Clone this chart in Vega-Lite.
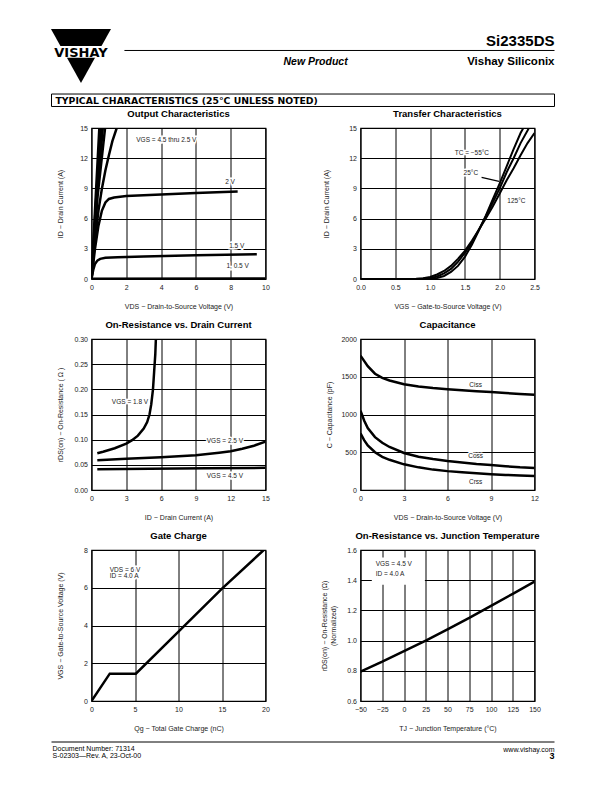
{
"$schema":"https://vega.github.io/schema/vega-lite/v6.json",
"background":"white",
"padding":{"left":49.5,"top":28,"right":5,"bottom":5},
"config":{
 "font":"Liberation Sans",
 "view":{"stroke":"black","strokeWidth":1.2},
 "axis":{"grid":true,"tickCount":30,"gridColor":"black","gridOpacity":1,"gridWidth":1,"domain":false,"ticks":false,"labelFont":"Liberation Sans","labelFontSize":7,"labelColor":"#222","labelPadding":4,"labelOverlap":false,"labelFlush":false,"titleFont":"Liberation Sans","titleFontSize":7,"titleFontWeight":"normal","titleColor":"#222"},
 "axisX":{"titleY":27,"titleBaseline":"middle"},
 "axisY":{"titleX":-31,"titleY":75.5,"titleAngle":-90,"titleAlign":"center","titleBaseline":"middle"},
 "title":{"font":"Liberation Sans Narrow, Arial Narrow, Liberation Sans","fontSize":9.5,"fontWeight":"bold","color":"black","frame":"group","offset":6,"anchor":"middle","baseline":"alphabetic"},
 "text":{"font":"Liberation Sans","fontSize":6.5,"color":"#222"}
},
"datasets":{
 "out":[
  {"s":"4.5","x":0,"y":0},{"s":"4.5","x":0.2,"y":6.8},{"s":"4.5","x":0.45,"y":15},
  {"s":"4","x":0,"y":0},{"s":"4","x":0.25,"y":7.5},{"s":"4","x":0.55,"y":15},
  {"s":"3.5","x":0,"y":0},{"s":"3.5","x":0.3,"y":8},{"s":"3.5","x":0.65,"y":15},
  {"s":"3","x":0,"y":0},{"s":"3","x":0.35,"y":8.2},{"s":"3","x":0.78,"y":15},
  {"s":"2.5","x":0,"y":0},{"s":"2.5","x":0.2,"y":3.8},{"s":"2.5","x":0.4,"y":6.8},{"s":"2.5","x":0.6,"y":9.0},{"s":"2.5","x":0.8,"y":10.8},{"s":"2.5","x":1.0,"y":12.3},{"s":"2.5","x":1.2,"y":13.7},{"s":"2.5","x":1.45,"y":15},
  {"s":"2","x":0,"y":0},{"s":"2","x":0.2,"y":3.0},{"s":"2","x":0.4,"y":5.3},{"s":"2","x":0.6,"y":6.8},{"s":"2","x":0.8,"y":7.6},{"s":"2","x":1.0,"y":7.95},{"s":"2","x":1.3,"y":8.1},{"s":"2","x":2,"y":8.25},{"s":"2","x":4,"y":8.4},{"s":"2","x":6,"y":8.55},{"s":"2","x":8.4,"y":8.7},
  {"s":"1.5","x":0,"y":0},{"s":"1.5","x":0.1,"y":0.9},{"s":"1.5","x":0.2,"y":1.5},{"s":"1.5","x":0.35,"y":1.85},{"s":"1.5","x":0.5,"y":2.0},{"s":"1.5","x":0.8,"y":2.1},{"s":"1.5","x":1.5,"y":2.17},{"s":"1.5","x":3,"y":2.23},{"s":"1.5","x":6,"y":2.35},{"s":"1.5","x":9.5,"y":2.47},
  {"s":"1","x":0,"y":0.03},{"s":"1","x":10,"y":0.05}
 ],
 "outLab":[{"t":"VGS = 4.5 thru 2.5 V","x":4.3,"y":13.85},{"t":"2 V","x":7.96,"y":9.63},{"t":"1.5 V","x":8.35,"y":3.3},{"t":"1, 0.5 V","x":8.4,"y":1.25}],
 "tr":[
  {"s":"-55","x":0,"y":0},{"s":"-55","x":0.9,"y":0},{"s":"-55","x":1.0,"y":0.02},{"s":"-55","x":1.1,"y":0.1},{"s":"-55","x":1.2,"y":0.3},{"s":"-55","x":1.3,"y":0.7},{"s":"-55","x":1.4,"y":1.3},{"s":"-55","x":1.5,"y":2.2},{"s":"-55","x":1.6,"y":3.4},{"s":"-55","x":1.7,"y":4.8},{"s":"-55","x":1.8,"y":6.3},{"s":"-55","x":1.9,"y":7.9},{"s":"-55","x":2.0,"y":9.5},{"s":"-55","x":2.1,"y":11.2},{"s":"-55","x":2.2,"y":12.9},{"s":"-55","x":2.3,"y":14.5},{"s":"-55","x":2.34,"y":15},
  {"s":"25","x":0,"y":0},{"s":"25","x":0.85,"y":0},{"s":"25","x":1.0,"y":0.08},{"s":"25","x":1.1,"y":0.25},{"s":"25","x":1.2,"y":0.55},{"s":"25","x":1.3,"y":1.0},{"s":"25","x":1.4,"y":1.7},{"s":"25","x":1.5,"y":2.6},{"s":"25","x":1.6,"y":3.6},{"s":"25","x":1.7,"y":4.9},{"s":"25","x":1.8,"y":6.2},{"s":"25","x":1.9,"y":7.6},{"s":"25","x":2.0,"y":9.0},{"s":"25","x":2.1,"y":10.6},{"s":"25","x":2.2,"y":12.0},{"s":"25","x":2.3,"y":13.5},{"s":"25","x":2.42,"y":15},
  {"s":"125","x":0,"y":0},{"s":"125","x":0.8,"y":0.02},{"s":"125","x":0.9,"y":0.08},{"s":"125","x":1.0,"y":0.2},{"s":"125","x":1.1,"y":0.45},{"s":"125","x":1.2,"y":0.8},{"s":"125","x":1.3,"y":1.3},{"s":"125","x":1.4,"y":2.0},{"s":"125","x":1.5,"y":2.8},{"s":"125","x":1.6,"y":3.8},{"s":"125","x":1.7,"y":4.9},{"s":"125","x":1.8,"y":6.0},{"s":"125","x":1.9,"y":7.2},{"s":"125","x":2.0,"y":8.5},{"s":"125","x":2.1,"y":9.8},{"s":"125","x":2.2,"y":11.0},{"s":"125","x":2.3,"y":12.3},{"s":"125","x":2.4,"y":13.5},{"s":"125","x":2.5,"y":14.5}
 ],
 "trLab":[{"t":"TC = −55°C","x":1.6,"y":12.5},{"t":"25°C","x":1.585,"y":10.55},{"t":"125°C","x":2.24,"y":7.75}],
 "trArrow":[{"x":1.74,"y":10.1,"x2":1.99,"y2":9.7}],
 "ron":[
  {"s":"1.8","x":0.5,"y":0.073},{"s":"1.8","x":1,"y":0.076},{"s":"1.8","x":2,"y":0.083},{"s":"1.8","x":3,"y":0.092},{"s":"1.8","x":3.5,"y":0.099},{"s":"1.8","x":4,"y":0.108},{"s":"1.8","x":4.5,"y":0.122},{"s":"1.8","x":4.8,"y":0.135},{"s":"1.8","x":5.0,"y":0.15},{"s":"1.8","x":5.15,"y":0.17},{"s":"1.8","x":5.3,"y":0.2},{"s":"1.8","x":5.4,"y":0.235},{"s":"1.8","x":5.5,"y":0.27},{"s":"1.8","x":5.55,"y":0.3},
  {"s":"2.5","x":0.5,"y":0.059},{"s":"2.5","x":3,"y":0.062},{"s":"2.5","x":6,"y":0.065},{"s":"2.5","x":9,"y":0.069},{"s":"2.5","x":11,"y":0.074},{"s":"2.5","x":12,"y":0.077},{"s":"2.5","x":13,"y":0.082},{"s":"2.5","x":14,"y":0.088},{"s":"2.5","x":15,"y":0.096},
  {"s":"4.5","x":0.5,"y":0.041},{"s":"4.5","x":5,"y":0.042},{"s":"4.5","x":10,"y":0.043},{"s":"4.5","x":15,"y":0.044}
 ],
 "ronLab":[{"t":"VGS = 1.8 V","x":3.32,"y":0.175},{"t":"VGS = 2.5 V","x":11.5,"y":0.098},{"t":"VGS = 4.5 V","x":11.5,"y":0.028}],
 "cap":[
  {"s":"Ciss","x":0,"y":1780},{"s":"Ciss","x":0.5,"y":1640},{"s":"Ciss","x":1,"y":1540},{"s":"Ciss","x":1.5,"y":1485},{"s":"Ciss","x":2,"y":1450},{"s":"Ciss","x":3,"y":1400},{"s":"Ciss","x":4,"y":1370},{"s":"Ciss","x":5,"y":1350},{"s":"Ciss","x":6,"y":1335},{"s":"Ciss","x":7,"y":1320},{"s":"Ciss","x":8,"y":1308},{"s":"Ciss","x":9,"y":1297},{"s":"Ciss","x":10,"y":1285},{"s":"Ciss","x":11,"y":1273},{"s":"Ciss","x":12,"y":1260},
  {"s":"Coss","x":0,"y":1050},{"s":"Coss","x":0.25,"y":920},{"s":"Coss","x":0.5,"y":820},{"s":"Coss","x":1,"y":700},{"s":"Coss","x":1.5,"y":625},{"s":"Coss","x":2,"y":570},{"s":"Coss","x":3,"y":490},{"s":"Coss","x":4,"y":440},{"s":"Coss","x":5,"y":410},{"s":"Coss","x":6,"y":385},{"s":"Coss","x":7,"y":365},{"s":"Coss","x":8,"y":345},{"s":"Coss","x":9,"y":330},{"s":"Coss","x":10,"y":315},{"s":"Coss","x":11,"y":300},{"s":"Coss","x":12,"y":290},
  {"s":"Crss","x":0,"y":750},{"s":"Crss","x":0.25,"y":660},{"s":"Crss","x":0.5,"y":590},{"s":"Crss","x":1,"y":500},{"s":"Crss","x":1.5,"y":440},{"s":"Crss","x":2,"y":400},{"s":"Crss","x":3,"y":340},{"s":"Crss","x":4,"y":300},{"s":"Crss","x":5,"y":270},{"s":"Crss","x":6,"y":250},{"s":"Crss","x":7,"y":235},{"s":"Crss","x":8,"y":222},{"s":"Crss","x":9,"y":210},{"s":"Crss","x":10,"y":200},{"s":"Crss","x":11,"y":192},{"s":"Crss","x":12,"y":185}
 ],
 "capLab":[{"t":"Ciss","x":7.94,"y":1390},{"t":"Coss","x":7.94,"y":455},{"t":"Crss","x":7.94,"y":101}],
 "qg":[{"x":0,"y":0},{"x":2.1,"y":1.45},{"x":5.1,"y":1.45},{"x":10,"y":3.67},{"x":15,"y":5.95},{"x":19.8,"y":8}],
 "qgLab":[{"t":"VDS = 6 V","x":2.1,"y":6.93},{"t":"ID = 4.0  A","x":2.1,"y":6.63}],
 "tj":[{"x":-50,"y":0.795},{"x":-25,"y":0.86},{"x":0,"y":0.93},{"x":25,"y":1.0},{"x":50,"y":1.075},{"x":75,"y":1.15},{"x":100,"y":1.23},{"x":125,"y":1.31},{"x":150,"y":1.39}],
 "tjLab":[{"t":"VGS = 4.5 V","x":-32.6,"y":1.505},{"t":"ID = 4.0  A","x":-32.6,"y":1.44}],
 "tjBox":[{"x":-37,"x2":24,"y":1.37,"y2":1.55}]
},
"columns":2,
"bounds":"flush",
"spacing":{"row":60,"column":95},
"concat":[
 {
  "width":174,"height":39,"view":{"stroke":null},
  "data":{"values":[{}]},
  "layer":[
   {"mark":{"type":"point","shape":"M-1,-0.9L1,-0.9L0,0.9Z","size":3600,"filled":true,"fill":"black","opacity":1,"strokeWidth":0},
    "encoding":{"x":{"datum":0.0586,"type":"quantitative","scale":{"domain":[0,1],"range":[-40,463],"nice":false,"zero":false},"axis":null},"y":{"datum":0.329,"type":"quantitative","scale":{"domain":[0,1],"range":[0,82],"nice":false,"zero":false},"axis":null}}},
   {"mark":{"type":"point","shape":"M-1,-0.19L1,-0.19L1,0.19L-1,0.19Z","size":3844,"filled":true,"fill":"white","opacity":1,"strokeWidth":0},
    "encoding":{"x":{"datum":0.0586,"type":"quantitative"},"y":{"datum":0.28,"type":"quantitative"}}},
   {"mark":{"type":"text","font":"DejaVu Sans","fontWeight":"bold","fontSize":13,"color":"black","align":"center","baseline":"alphabetic","text":"VISHAY"},
    "encoding":{"x":{"datum":0.0586,"type":"quantitative"},"y":{"datum":0.341,"type":"quantitative"}}},
   {"mark":{"type":"rule","color":"black","strokeWidth":1},
    "encoding":{"x":{"datum":0.145,"type":"quantitative"},"x2":{"datum":1},"y":{"datum":0.262,"type":"quantitative"}}},
   {"mark":{"type":"text","font":"Liberation Sans Narrow, Arial Narrow, Liberation Sans","fontWeight":"bold","fontStyle":"italic","fontSize":10.5,"color":"black","align":"center","baseline":"alphabetic","text":"New Product"},
    "encoding":{"x":{"datum":0.525,"type":"quantitative"},"y":{"datum":0.439,"type":"quantitative"}}},
   {"mark":{"type":"rect","filled":false,"stroke":"black","strokeWidth":1},
    "encoding":{"x":{"datum":0,"type":"quantitative"},"x2":{"datum":1},"y":{"datum":0.793,"type":"quantitative"},"y2":{"datum":0.945}}},
   {"mark":{"type":"text","font":"DejaVu Sans","fontWeight":"bold","fontSize":9.3,"color":"black","align":"left","baseline":"alphabetic","text":"TYPICAL CHARACTERISTICS (25°C UNLESS NOTED)"},
    "encoding":{"x":{"datum":0.008,"type":"quantitative"},"y":{"datum":0.909,"type":"quantitative"}}}
  ]
 },
 {
  "width":174,"height":39,"view":{"stroke":null},
  "data":{"values":[{}]},
  "layer":[
   {"mark":{"type":"text","font":"Liberation Sans","fontWeight":"bold","fontSize":15,"color":"black","align":"right","baseline":"alphabetic","text":"Si2335DS"},
    "encoding":{"x":{"datum":1,"type":"quantitative","scale":{"domain":[0,1],"range":[-309,194],"nice":false,"zero":false},"axis":null},"y":{"datum":0.213,"type":"quantitative","scale":{"domain":[0,1],"range":[0,82],"nice":false,"zero":false},"axis":null}}},
   {"mark":{"type":"text","font":"Liberation Sans Narrow, Arial Narrow, Liberation Sans","fontWeight":"bold","fontSize":11.5,"color":"black","align":"right","baseline":"alphabetic","text":"Vishay Siliconix"},
    "encoding":{"x":{"datum":1,"type":"quantitative"},"y":{"datum":0.445,"type":"quantitative"}}}
  ]
 },
 {
  "title":"Output Characteristics","width":174,"height":151,
  "layer":[
   {"data":{"name":"outLab"},"mark":{"type":"text","fill":"white","stroke":"white","strokeWidth":3},
    "encoding":{"x":{"field":"x","type":"quantitative","scale":{"domain":[0,10],"nice":false,"zero":false},"axis":{"values":[0,2,4,6,8,10],"tickCount":30,"format":"d","title":"VDS  −  Drain-to-Source Voltage (V)"}},"y":{"field":"y","type":"quantitative","scale":{"domain":[0,15],"nice":false,"zero":false},"axis":{"values":[0,3,6,9,12,15],"tickCount":30,"format":"d","title":"ID  −  Drain Current (A)"}},"text":{"field":"t"}}},
   {"data":{"name":"out"},"mark":{"type":"line","clip":true,"strokeWidth":2.5,"color":"black"},
    "encoding":{"x":{"field":"x","type":"quantitative"},"y":{"field":"y","type":"quantitative"},"detail":{"field":"s"}}},
   {"data":{"name":"outLab"},"mark":{"type":"text"},
    "encoding":{"x":{"field":"x","type":"quantitative"},"y":{"field":"y","type":"quantitative"},"text":{"field":"t"}}}
  ]
 },
 {
  "title":"Transfer Characteristics","width":174,"height":151,
  "layer":[
   {"data":{"name":"trLab"},"mark":{"type":"text","fill":"white","stroke":"white","strokeWidth":3},
    "encoding":{"x":{"field":"x","type":"quantitative","scale":{"domain":[0,2.5],"nice":false,"zero":false},"axis":{"values":[0,0.5,1,1.5,2,2.5],"tickCount":30,"format":".1f","title":"VGS  −  Gate-to-Source Voltage (V)"}},"y":{"field":"y","type":"quantitative","scale":{"domain":[0,15],"nice":false,"zero":false},"axis":{"values":[0,3,6,9,12,15],"tickCount":30,"format":"d","title":"ID  −  Drain Current (A)","titleX":-34}},"text":{"field":"t"}}},
   {"data":{"name":"tr"},"mark":{"type":"line","clip":true,"strokeWidth":2,"color":"black"},
    "encoding":{"x":{"field":"x","type":"quantitative"},"y":{"field":"y","type":"quantitative"},"detail":{"field":"s"}}},
   {"data":{"name":"trArrow"},"mark":{"type":"rule","color":"black","strokeWidth":1.2},
    "encoding":{"x":{"field":"x","type":"quantitative"},"y":{"field":"y","type":"quantitative"},"x2":{"field":"x2"},"y2":{"field":"y2"}}},
   {"data":{"name":"trLab"},"mark":{"type":"text"},
    "encoding":{"x":{"field":"x","type":"quantitative"},"y":{"field":"y","type":"quantitative"},"text":{"field":"t"}}}
  ]
 },
 {
  "title":"On-Resistance vs. Drain Current","width":174,"height":151,
  "layer":[
   {"data":{"name":"ronLab"},"mark":{"type":"text","fill":"white","stroke":"white","strokeWidth":3},
    "encoding":{"x":{"field":"x","type":"quantitative","scale":{"domain":[0,15],"nice":false,"zero":false},"axis":{"values":[0,3,6,9,12,15],"tickCount":30,"format":"d","title":"ID  −  Drain Current (A)"}},"y":{"field":"y","type":"quantitative","scale":{"domain":[0,0.3],"nice":false,"zero":false},"axis":{"values":[0,0.05,0.1,0.15,0.2,0.25,0.3],"tickCount":30,"format":".2f","title":"rDS(on)  −  On-Resistance ( Ω )"}},"text":{"field":"t"}}},
   {"data":{"name":"ron"},"mark":{"type":"line","clip":true,"strokeWidth":2.5,"color":"black"},
    "encoding":{"x":{"field":"x","type":"quantitative"},"y":{"field":"y","type":"quantitative"},"detail":{"field":"s"}}},
   {"data":{"name":"ronLab"},"mark":{"type":"text"},
    "encoding":{"x":{"field":"x","type":"quantitative"},"y":{"field":"y","type":"quantitative"},"text":{"field":"t"}}}
  ]
 },
 {
  "title":"Capacitance","width":174,"height":151,
  "layer":[
   {"data":{"name":"capLab"},"mark":{"type":"text","fill":"white","stroke":"white","strokeWidth":3},
    "encoding":{"x":{"field":"x","type":"quantitative","scale":{"domain":[0,12],"nice":false,"zero":false},"axis":{"values":[0,3,6,9,12],"tickCount":30,"format":"d","title":"VDS  −  Drain-to-Source Voltage (V)"}},"y":{"field":"y","type":"quantitative","scale":{"domain":[0,2000],"nice":false,"zero":false},"axis":{"values":[0,500,1000,1500,2000],"tickCount":30,"format":"d","title":"C  −  Capacitance (pF)"}},"text":{"field":"t"}}},
   {"data":{"name":"cap"},"mark":{"type":"line","clip":true,"strokeWidth":2.5,"color":"black"},
    "encoding":{"x":{"field":"x","type":"quantitative"},"y":{"field":"y","type":"quantitative"},"detail":{"field":"s"}}},
   {"data":{"name":"capLab"},"mark":{"type":"text"},
    "encoding":{"x":{"field":"x","type":"quantitative"},"y":{"field":"y","type":"quantitative"},"text":{"field":"t"}}}
  ]
 },
 {
  "title":"Gate Charge","width":174,"height":151,
  "layer":[
   {"data":{"name":"qgLab"},"mark":{"type":"text","fill":"white","stroke":"white","strokeWidth":3,"align":"left"},
    "encoding":{"x":{"field":"x","type":"quantitative","scale":{"domain":[0,20],"nice":false,"zero":false},"axis":{"values":[0,5,10,15,20],"tickCount":30,"format":"d","title":"Qg  −  Total Gate Charge (nC)"}},"y":{"field":"y","type":"quantitative","scale":{"domain":[0,8],"nice":false,"zero":false},"axis":{"values":[0,2,4,6,8],"tickCount":30,"format":"d","title":"VGS  −  Gate-to-Source Voltage (V)"}},"text":{"field":"t"}}},
   {"data":{"name":"qg"},"mark":{"type":"line","clip":true,"strokeWidth":2.5,"color":"black"},
    "encoding":{"x":{"field":"x","type":"quantitative"},"y":{"field":"y","type":"quantitative"}}},
   {"data":{"name":"qgLab"},"mark":{"type":"text","align":"left"},
    "encoding":{"x":{"field":"x","type":"quantitative"},"y":{"field":"y","type":"quantitative"},"text":{"field":"t"}}}
  ]
 },
 {
  "title":"On-Resistance vs. Junction Temperature","width":174,"height":151,
  "layer":[
   {"data":{"name":"tjBox"},"mark":{"type":"rect","color":"white","opacity":1},
    "encoding":{"x":{"field":"x","type":"quantitative","scale":{"domain":[-50,150],"nice":false,"zero":false},"axis":{"values":[-50,-25,0,25,50,75,100,125,150],"tickCount":30,"format":"d","title":"TJ − Junction Temperature (°C)"}},"x2":{"field":"x2"},"y":{"field":"y","type":"quantitative","scale":{"domain":[0.6,1.6],"nice":false,"zero":false},"axis":{"values":[0.6,0.8,1.0,1.2,1.4,1.6],"tickCount":30,"format":".1f","title":["rDS(on)  −  On-Resistance (Ω)","(Normalized)"],"titleX":-36}},"y2":{"field":"y2"}}},
   {"data":{"name":"tj"},"mark":{"type":"line","clip":true,"strokeWidth":2.5,"color":"black"},
    "encoding":{"x":{"field":"x","type":"quantitative"},"y":{"field":"y","type":"quantitative"}}},
   {"data":{"name":"tjLab"},"mark":{"type":"text","align":"left"},
    "encoding":{"x":{"field":"x","type":"quantitative"},"y":{"field":"y","type":"quantitative"},"text":{"field":"t"}}}
  ]
 },
 {
  "width":174,"height":4,"view":{"stroke":null},
  "data":{"values":[{}]},
  "layer":[
   {"mark":{"type":"rule","color":"black","strokeWidth":1},
    "encoding":{"x":{"datum":0,"type":"quantitative","scale":{"domain":[0,1],"range":[-40,463],"nice":false,"zero":false},"axis":null},"x2":{"datum":1},"y":{"datum":0,"type":"quantitative","scale":{"domain":[0,1],"range":[-19,2],"nice":false,"zero":false},"axis":null}}},
   {"mark":{"type":"text","fontSize":7,"color":"black","align":"left","baseline":"alphabetic","text":"Document Number:  71314"},
    "encoding":{"x":{"datum":0.002,"type":"quantitative"},"y":{"datum":0.452,"type":"quantitative"}}},
   {"mark":{"type":"text","fontSize":7,"color":"black","align":"left","baseline":"alphabetic","text":"S-02303—Rev. A, 23-Oct-00"},
    "encoding":{"x":{"datum":0.002,"type":"quantitative"},"y":{"datum":0.762,"type":"quantitative"}}}
  ]
 },
 {
  "width":174,"height":4,"view":{"stroke":null},
  "data":{"values":[{}]},
  "layer":[
   {"mark":{"type":"text","fontSize":7,"color":"black","align":"right","baseline":"alphabetic","text":"www.vishay.com"},
    "encoding":{"x":{"datum":1,"type":"quantitative","scale":{"domain":[0,1],"range":[-309,194],"nice":false,"zero":false},"axis":null},"y":{"datum":0.476,"type":"quantitative","scale":{"domain":[0,1],"range":[-19,2],"nice":false,"zero":false},"axis":null}}},
   {"mark":{"type":"text","fontSize":9,"fontWeight":"bold","color":"black","align":"right","baseline":"alphabetic","text":"3"},
    "encoding":{"x":{"datum":1,"type":"quantitative"},"y":{"datum":0.833,"type":"quantitative"}}}
  ]
 }
]
}
